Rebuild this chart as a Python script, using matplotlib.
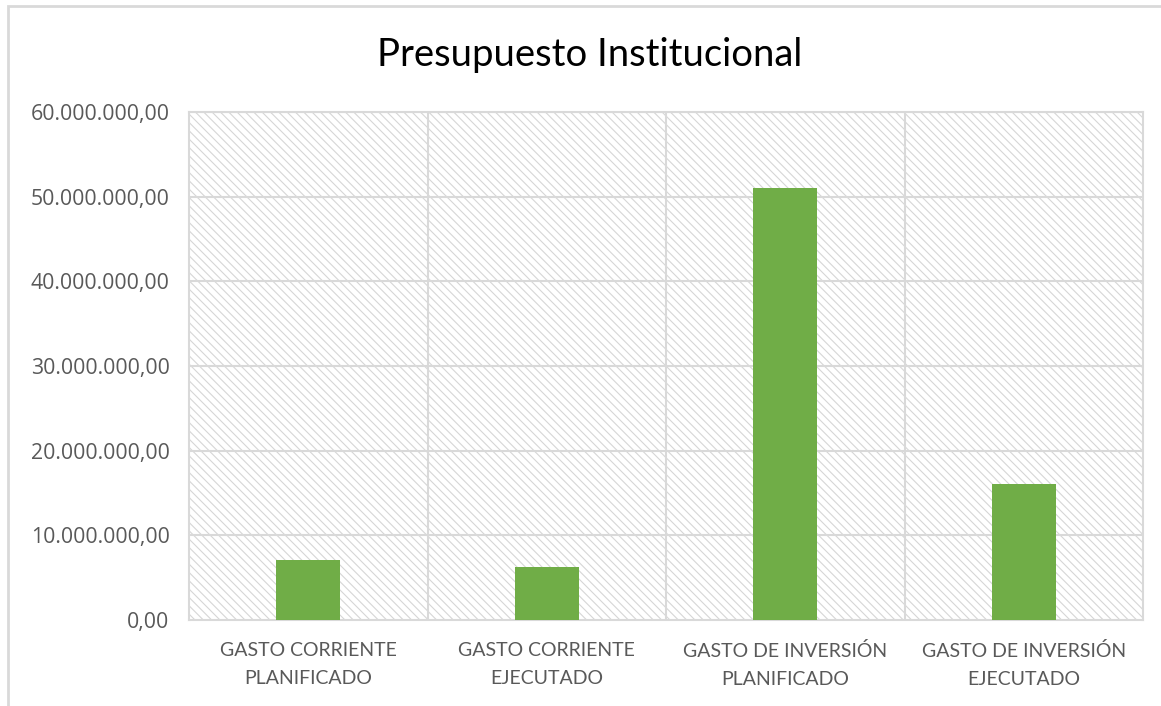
import matplotlib.pyplot as plt
from matplotlib.patches import Rectangle
from matplotlib.ticker import FuncFormatter

categories = ["GASTO CORRIENTE\nPLANIFICADO", "GASTO CORRIENTE\nEJECUTADO",
              "GASTO DE INVERSIÓN\nPLANIFICADO", "GASTO DE INVERSIÓN\nEJECUTADO"]
values = [7100000, 6250000, 51000000, 16050000]

plt.rcParams['font.family'] = ['Lato', 'DejaVu Sans']
plt.rcParams['hatch.linewidth'] = 0.8
plt.rcParams['hatch.color'] = '#d6d6d6'

fig = plt.figure(figsize=(11.61, 7.06), dpi=100)
ax = fig.add_axes([189/1161, 1 - 620/706, (1143-189)/1161, (620-112)/706])

# chart border
fig.patches.append(Rectangle((8/1161, -0.1), 1.2, 1 - 6/706 + 0.1, transform=fig.transFigure,
                             fill=False, edgecolor='#d9d9d9', linewidth=2))

n = len(categories)
ax.set_xlim(-0.5, n - 0.5)
ax.set_ylim(0, 60000000)

# hatched background
ax.add_patch(Rectangle((0, 0), 1, 1, transform=ax.transAxes, facecolor='white',
                       hatch='\\\\\\\\', edgecolor='#d6d6d6', linewidth=0, zorder=0))

for y in range(10000000, 60000001, 10000000):
    ax.axhline(y, color='#d9d9d9', linewidth=1.5, zorder=1)
for x in [0.5, 1.5, 2.5]:
    ax.axvline(x, color='#d9d9d9', linewidth=1.5, zorder=1)

ax.bar(range(n), values, width=0.27, color='#70ad47', zorder=3)

for s in ax.spines.values():
    s.set_color('#d9d9d9')
    s.set_linewidth(1.5)

ax.set_yticks(range(0, 60000001, 10000000))
ax.yaxis.set_major_formatter(FuncFormatter(
    lambda v, p: f"{v:,.2f}".replace(",", "X").replace(".", ",").replace("X", ".")))
ax.set_xticks(range(n))
ax.set_xticklabels(categories)
ax.tick_params(axis='both', length=0, colors='#595959')
ax.tick_params(axis='x', pad=16, labelsize=14.0)
ax.tick_params(axis='y', pad=14, labelsize=15.3)
for lab in ax.get_yticklabels():
    lab.set_family(['Open Sans', 'DejaVu Sans'])
for lab in ax.get_xticklabels():
    lab.set_linespacing(1.8)

fig.text((378+802)/2/1161, 1 - 55/706, "Presupuesto Institucional", ha='center', va='center',
         fontsize=27.5, color='black')

fig.savefig("out.png", dpi=100)
